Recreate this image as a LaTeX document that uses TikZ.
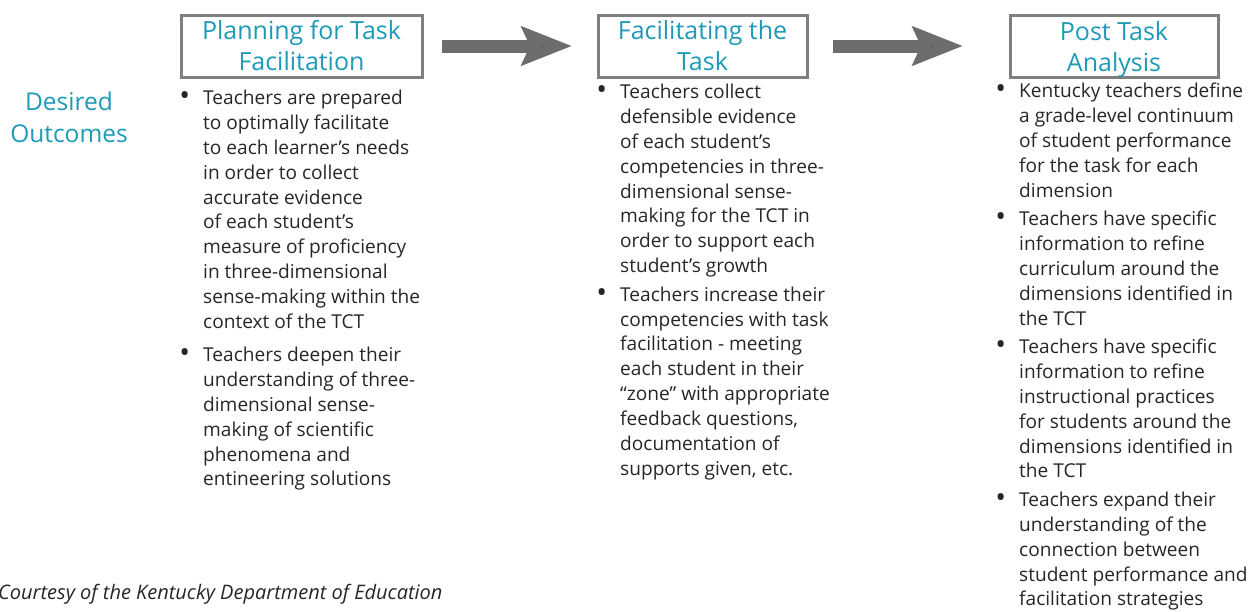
\documentclass[tikz,border=0pt]{standalone}
\usepackage{fontspec}
\setmainfont{Open Sans}
\usepackage{xcolor}
\usepackage{graphicx}
\usepackage{tikz}
\usetikzlibrary{arrows.meta, positioning}

\definecolor{headteal}{HTML}{1C9AB7}
\definecolor{boxgray}{HTML}{7F7F7F}
\definecolor{arrowgray}{HTML}{6D6D6D}
\definecolor{bodygray}{HTML}{262626}

\newcommand{\bodyfont}{\fontsize{19.1}{24.9}\selectfont}
\newcommand{\headfont}{\fontsize{25}{31}\selectfont}
\newcommand{\outfont}{\fontsize{24.5}{32}\selectfont}
\newcommand{\bul}{\llap{\raisebox{-1.5pt}{\scalebox{1.5}{\textbullet}}\hspace{13pt}}}
\newcommand{\nodepth}[1]{\raisebox{0pt}[\height][0pt]{#1}}

\begin{document}
\begin{tikzpicture}[x=1pt,y=-1pt,-,
                    main node/.style={rectangle,draw=boxgray,line width=3pt,inner sep=0pt,outer sep=0pt,
                      minimum height=62pt,font=\headfont,text=headteal,align=center},
                    list node/.style={anchor=north west,align=left,inner sep=0pt,font=\bodyfont,text=bodygray}]

 \useasboundingbox (0,0) rectangle (1248,611);

 \node[main node,minimum width=241pt] (1) at (301.5,46) {Planning for Task\\Facilitation};

 \node[main node,minimum width=209pt] (2) at (702.5,46) {Facilitating the\\Task};

 \node[main node,minimum width=208pt] (3) at (1114,46) {Post Task\\\nodepth{Analysis}};

 \node[font=\outfont,text=headteal,align=center,inner sep=0pt] (outcomes) at (69,117) {Desired\\Outcomes};

 \node[list node] (list1) at (203,86.8) {\strut\bul Teachers are prepared\\
   to optimally facilitate\\
   to each learner’s needs\\
   in order to collect\\
   accurate evidence\\
   of each student’s\\
   measure of proficiency\\
   in three-dimensional\\
   sense-making within the\\
   context of the TCT\\[8pt]
   \bul Teachers deepen their\\
   understanding of three-\\
   dimensional sense-\\
   making of scientific\\
   phenomena and\\
   entineering solutions\strut};

 \node[list node] (list2) at (620,80.8) {\strut\bul Teachers collect\\
   defensible evidence\\
   of each student’s\\
   competencies in three-\\
   dimensional sense-\\
   making for the TCT in\\
   order to support each\\
   student’s growth\\[3.5pt]
   \bul Teachers increase their\\
   competencies with task\\
   facilitation - meeting\\
   each student in their\\
   “zone” with appropriate\\
   feedback questions,\\
   documentation of\\
   supports given, etc.\strut};

 \node[list node] (list3) at (1019,79.8) {\strut\bul Kentucky teachers define\\
   a grade-level continuum\\
   of student performance\\
   for the task for each\\
   dimension\\[3.5pt]
   \bul Teachers have specific\\
   information to refine\\
   curriculum around the\\
   dimensions identified in\\
   the TCT\\[3.5pt]
   \bul Teachers have specific\\
   information to refine\\
   instructional practices\\
   for students around the\\
   dimensions identified in\\
   the TCT\\[3.5pt]
   \bul Teachers expand their\\
   understanding of the\\
   connection between\\
   student performance and\\
   facilitation strategies\strut};

 \node[anchor=base west,inner sep=0pt,font=\fontsize{20}{24}\selectfont\itshape,text=bodygray] (credit) at (-2,599)
   {Courtesy of the Kentucky Department of Education};

  \path[-{Stealth[length=50pt,width=38pt,inset=8pt]},line width=13pt,draw=arrowgray]
    (1) edge[shorten <=20pt,shorten >=26pt] (2)
    (2) edge[shorten <=26pt,shorten >=47pt] (3);

\end{tikzpicture}
\end{document}
